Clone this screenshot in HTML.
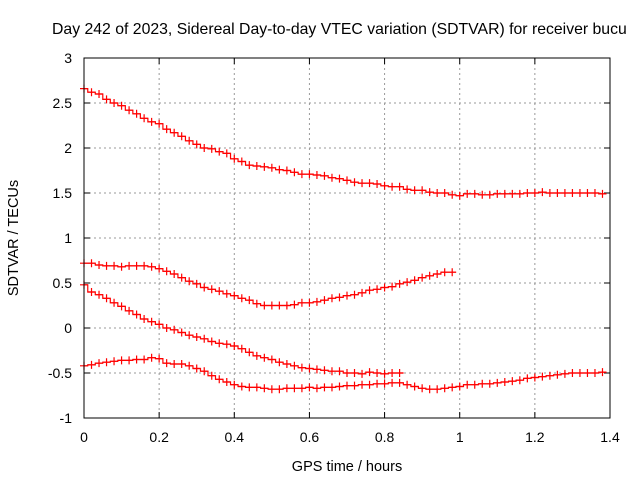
<!DOCTYPE html>
<html><head><meta charset="utf-8"><style>
body{margin:0;background:#fff;overflow:hidden;}
svg{display:block;font-family:"Liberation Sans",sans-serif;}
</style></head><body>
<svg id="c" width="640" height="480">
<text x="52" y="34" font-size="15.8" text-anchor="start">Day 242 of 2023, Sidereal Day-to-day VTEC variation (SDTVAR) for receiver bucu</text>
<text x="347" y="471" font-size="14.5" text-anchor="middle">GPS time / hours</text>
<text transform="translate(18,238) rotate(-90)" font-size="14.5" text-anchor="middle">SDTVAR / TECUs</text>
<g id="grid"></g><g id="ticks"></g><g id="series"></g>
<rect x="84" y="58" width="526" height="360" fill="none" stroke="#000" stroke-width="1"/>
</svg>
<script>
const xTicks=[0,0.2,0.4,0.6,0.8,1,1.2,1.4];
const xTickLabels=["0","0.2","0.4","0.6","0.8","1","1.2","1.4"];
const yTicks=[-1,-0.5,0,0.5,1,1.5,2,2.5,3];
const yTickLabels=["-1","-0.5","0","0.5","1","1.5","2","2.5","3"];
const dt=0.02;
const seriesA=[2.66,2.62,2.6,2.54,2.5,2.47,2.42,2.38,2.33,2.29,2.27,2.21,2.17,2.13,2.08,2.04,2.0,1.99,1.96,1.94,1.88,1.85,1.81,1.8,1.79,1.78,1.76,1.75,1.73,1.71,1.71,1.7,1.69,1.67,1.66,1.64,1.62,1.61,1.61,1.6,1.58,1.57,1.57,1.54,1.53,1.53,1.51,1.5,1.5,1.48,1.47,1.49,1.49,1.48,1.48,1.49,1.49,1.49,1.49,1.5,1.5,1.51,1.5,1.5,1.5,1.5,1.5,1.5,1.5,1.49];
const seriesB=[0.72,0.72,0.7,0.69,0.69,0.68,0.69,0.69,0.69,0.68,0.66,0.63,0.6,0.56,0.52,0.49,0.45,0.43,0.41,0.38,0.36,0.33,0.31,0.27,0.25,0.25,0.25,0.25,0.26,0.28,0.28,0.29,0.31,0.33,0.34,0.36,0.37,0.39,0.42,0.43,0.45,0.46,0.49,0.51,0.53,0.56,0.58,0.6,0.62,0.62];
const seriesC=[0.48,0.4,0.37,0.33,0.28,0.24,0.19,0.15,0.1,0.07,0.04,0.0,-0.02,-0.05,-0.08,-0.1,-0.12,-0.15,-0.17,-0.18,-0.2,-0.23,-0.27,-0.31,-0.33,-0.35,-0.38,-0.4,-0.42,-0.44,-0.45,-0.46,-0.47,-0.48,-0.48,-0.5,-0.5,-0.51,-0.49,-0.5,-0.51,-0.5,-0.5];
const seriesD=[-0.42,-0.41,-0.39,-0.38,-0.37,-0.36,-0.36,-0.35,-0.35,-0.33,-0.34,-0.39,-0.4,-0.4,-0.42,-0.45,-0.48,-0.53,-0.57,-0.6,-0.63,-0.65,-0.66,-0.66,-0.67,-0.68,-0.68,-0.67,-0.67,-0.67,-0.66,-0.67,-0.66,-0.66,-0.65,-0.64,-0.64,-0.63,-0.63,-0.62,-0.62,-0.61,-0.61,-0.63,-0.65,-0.67,-0.68,-0.68,-0.67,-0.66,-0.65,-0.63,-0.63,-0.62,-0.62,-0.61,-0.6,-0.59,-0.58,-0.56,-0.55,-0.54,-0.53,-0.52,-0.51,-0.5,-0.5,-0.5,-0.5,-0.49];
const NS='http://www.w3.org/2000/svg';
const L=84,R=610,T=58,B=418;
function xs(v){return L+(v-0)/(1.4-0)*(R-L);}
function ys(v){return B-(v+1)/4*(B-T);}
function mk(tag,attrs,parent){const e=document.createElementNS(NS,tag);for(const k in attrs)e.setAttribute(k,attrs[k]);parent.appendChild(e);return e;}
const grid=document.getElementById('grid'),ticks=document.getElementById('ticks'),ser=document.getElementById('series');
xTicks.forEach((v,i)=>{const x=xs(v);
 if(i>0&&i<xTicks.length-1){const g=mk('line',{x1:x,x2:x,y1:T,y2:B,stroke:'#999','stroke-dasharray':'2,3'},grid);
 
 }
 mk('line',{x1:x,x2:x,y1:B,y2:B-6,stroke:'#000'},ticks);mk('line',{x1:x,x2:x,y1:T,y2:T+6,stroke:'#000'},ticks);
 const t=mk('text',{x:x,y:B+24,'font-size':14,'text-anchor':'middle'},ticks);t.textContent=xTickLabels[i];
 
 });
yTicks.forEach((v,i)=>{const y=ys(v);
 if(i>0&&i<yTicks.length-1){const g=mk('line',{x1:L,x2:R,y1:y,y2:y,stroke:'#999','stroke-dasharray':'2,3'},grid);
 
 }
 mk('line',{x1:L,x2:L+6,y1:y,y2:y,stroke:'#000'},ticks);mk('line',{x1:R,x2:R-6,y1:y,y2:y,stroke:'#000'},ticks);
 const t=mk('text',{x:L-12,y:y+5,'font-size':14,'text-anchor':'end'},ticks);t.textContent=yTickLabels[i];
 
 });
function draw(vals,name){
 let d='';const half=dt/2;
 vals.forEach((v,i)=>{const x0=xs(Math.max(0,i*dt-half)),x1=xs(i*dt+half),y=ys(v);
  d+=(i===0?'M'+x0+','+y:'L'+x0+','+y)+'L'+x1+','+y;});
 const p=mk('path',{d:d,fill:'none',stroke:'#f00','stroke-width':1.2},ser);
 
 
 let m='';vals.forEach((v,i)=>{const x=xs(i*dt),y=ys(v);m+='M'+(x-4)+','+y+'h8M'+x+','+(y-4)+'v8';});
 const q=mk('path',{d:m,stroke:'#f00','stroke-width':1.2},ser);
 
 }
draw(seriesA,'series-a');draw(seriesB,'series-b');draw(seriesC,'series-c');draw(seriesD,'series-d');
</script>
</body></html>
